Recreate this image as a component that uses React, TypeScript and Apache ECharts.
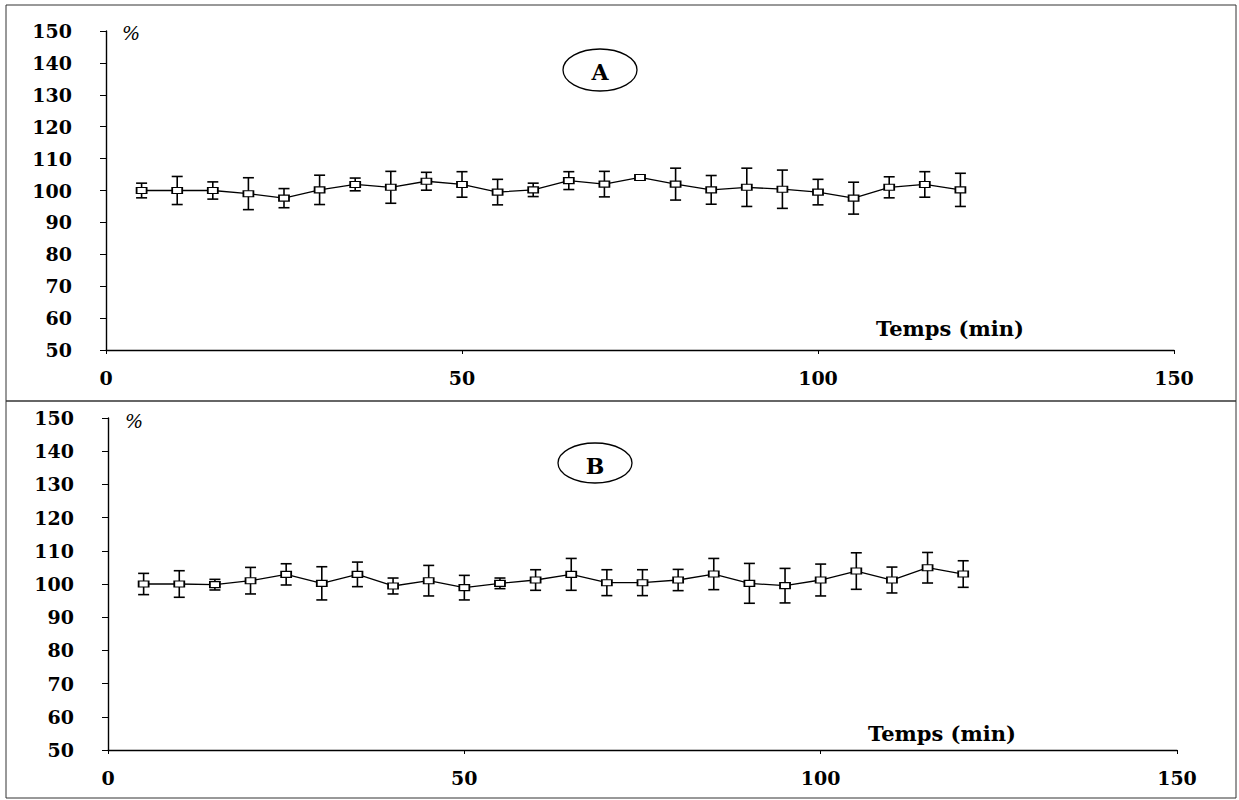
import React, { useEffect, useRef } from "react";
import * as echarts from "echarts";

const times = [5, 10, 15, 20, 25, 30, 35, 40, 45, 50, 55, 60, 65, 70, 75, 80, 85, 90, 95, 100, 105, 110, 115, 120];
const meanA = [100, 100, 100, 99, 97.6, 100.2, 101.9, 101, 102.9, 101.9, 99.5, 100.2, 103.1, 102, 104.1, 102, 100.2, 101, 100.4, 99.5, 97.6, 101, 101.9, 100.2];
const sdA = [2.3, 4.4, 2.7, 5, 3, 4.6, 2, 5, 2.8, 4, 4, 2.1, 2.8, 4, 0.5, 5, 4.5, 6, 6, 4, 5, 3.3, 4, 5.2];
const meanB = [100, 100, 99.8, 101, 102.9, 100.2, 102.9, 99.4, 101, 98.9, 100.2, 101.2, 102.9, 100.4, 100.4, 101.2, 103, 100.2, 99.5, 101.2, 103.9, 101.2, 104.9, 103];
const sdB = [3.2, 4, 1.6, 4, 3.2, 5, 3.7, 2.4, 4.6, 3.7, 1.6, 3.1, 4.8, 3.9, 3.9, 3.2, 4.7, 6, 5.2, 4.8, 5.5, 3.9, 4.6, 4];
const yTicks = { min: 50, max: 150, interval: 10 };
const xTicks = { min: 0, max: 150, interval: 50 };
const xTitle = "Temps (min)";
const yUnit = "%";
const panelLabels = ["A", "B"];

const FONT = "DejaVu Serif";

export default function App() {
  const ref = useRef<HTMLDivElement>(null);
  useEffect(() => {
    document.body.style.margin = "0";
    const chart = echarts.init(ref.current!, null, { renderer: "svg" });
    const grids = [
      { left: 106, right: 65, top: 31, height: 319 },
      { left: 108, right: 62, top: 418, height: 332 },
    ];
    const xAxes = grids.map((_, i) => ({
      type: "value",
      gridIndex: i,
      min: xTicks.min,
      max: xTicks.max,
      interval: xTicks.interval,
      splitLine: { show: false },
      axisLine: { show: true, lineStyle: { color: "#000", width: 1.4 } },
      axisTick: { show: true, length: 4, lineStyle: { color: "#000" } },
      axisLabel: { color: "#000", fontFamily: FONT, fontWeight: "bold", fontSize: 19, margin: 18 },
    }));
    const yAxes = grids.map((_, i) => ({
      type: "value",
      gridIndex: i,
      min: yTicks.min,
      max: yTicks.max,
      interval: yTicks.interval,
      splitLine: { show: false },
      axisLine: { show: true, lineStyle: { color: "#000", width: 1.4 } },
      axisTick: { show: true, length: 6, lineStyle: { color: "#000" } },
      axisLabel: { color: "#000", fontFamily: FONT, fontWeight: "bold", fontSize: 19, margin: 34 },
    }));
    const means = [meanA, meanB];
    const sds = [sdA, sdB];
    const series: any[] = [];
    [0, 1].forEach((i) => {
      series.push({
        type: "custom",
        xAxisIndex: i,
        yAxisIndex: i,
        data: times.map((t, k) => [t, means[i][k] - sds[i][k], means[i][k] + sds[i][k]]),
        encode: { x: 0, y: [1, 2] },
        z: 1,
        renderItem: (params: any, api: any) => {
          const lo = api.coord([api.value(0), api.value(1)]);
          const hi = api.coord([api.value(0), api.value(2)]);
          const w = 5.5;
          const style = { stroke: "#000", lineWidth: 1.6 };
          return {
            type: "group",
            children: [
              { type: "line", shape: { x1: lo[0], y1: lo[1], x2: hi[0], y2: hi[1] }, style },
              { type: "line", shape: { x1: hi[0] - w, y1: hi[1], x2: hi[0] + w, y2: hi[1] }, style },
              { type: "line", shape: { x1: lo[0] - w, y1: lo[1], x2: lo[0] + w, y2: lo[1] }, style },
            ],
          };
        },
      });
      series.push({
        type: "line",
        xAxisIndex: i,
        yAxisIndex: i,
        data: times.map((t, k) => [t, means[i][k]]),
        symbol: "rect",
        symbolSize: [10, 6],
        showSymbol: true,
        z: 3,
        lineStyle: { color: "#000", width: 1.3 },
        itemStyle: { color: "#fff", borderColor: "#000", borderWidth: 1.4 },
      });
    });
    const textStyle = (t: string, size: number, extra: any = {}) => ({
      text: t,
      fill: "#000",
      fontFamily: FONT,
      fontWeight: "bold",
      fontSize: size,
      ...extra,
    });
    const graphic: any[] = [
      { type: "rect", shape: { x: 6, y: 5, width: 1230, height: 793 }, style: { fill: "none", stroke: "#333", lineWidth: 1 } },
      { type: "line", shape: { x1: 6, y1: 401, x2: 1236, y2: 401 }, style: { stroke: "#333", lineWidth: 1.5 } },
      { type: "ellipse", shape: { cx: 600, cy: 70, rx: 37, ry: 21 }, style: { fill: "none", stroke: "#000", lineWidth: 1.3 } },
      { type: "ellipse", shape: { cx: 595, cy: 463, rx: 37, ry: 20 }, style: { fill: "none", stroke: "#000", lineWidth: 1.3 } },
      { type: "text", x: 600, y: 72, style: textStyle(panelLabels[0], 22, { align: "center", verticalAlign: "middle" }) },
      { type: "text", x: 595, y: 466, style: textStyle(panelLabels[1], 22, { align: "center", verticalAlign: "middle" }) },
      { type: "text", x: 122, y: 33, style: textStyle(yUnit, 19, { fontWeight: "normal", fontStyle: "italic", verticalAlign: "middle" }) },
      { type: "text", x: 125, y: 421, style: textStyle(yUnit, 19, { fontWeight: "normal", fontStyle: "italic", verticalAlign: "middle" }) },
      { type: "text", x: 876, y: 328, style: textStyle(xTitle, 21, { verticalAlign: "middle" }) },
      { type: "text", x: 868, y: 733, style: textStyle(xTitle, 21, { verticalAlign: "middle" }) },
    ];
    chart.setOption({
      animation: false,
      backgroundColor: "#fff",
      grid: grids,
      xAxis: xAxes,
      yAxis: yAxes,
      series,
      graphic,
    });
    return () => chart.dispose();
  }, []);
  return <div ref={ref} style={{ width: 1239, height: 800 }} />;
}
